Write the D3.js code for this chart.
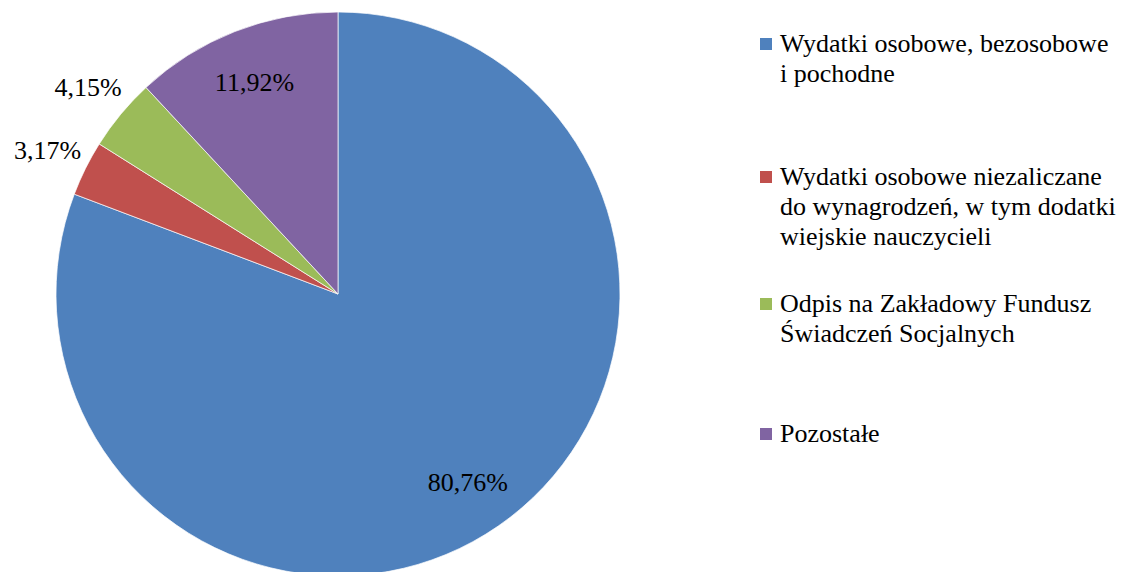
<!DOCTYPE html>
<html>
<head>
<meta charset="utf-8">
<script src="https://cdn.jsdelivr.net/npm/d3@7"></script>
<style>
  body { margin: 0; background: #fff; }
</style>
</head>
<body>
<svg id="chart" width="1126" height="572"></svg>
<script>
// data
var categories = [
  ["Wydatki osobowe, bezosobowe", "i pochodne"],
  ["Wydatki osobowe niezaliczane", "do wynagrodzeń, w tym dodatki", "wiejskie nauczycieli"],
  ["Odpis na Zakładowy Fundusz", "Świadczeń Socjalnych"],
  ["Pozostałe"]
];
var values = [80.76, 3.17, 4.15, 11.92];
var labels = ["80,76%", "3,17%", "4,15%", "11,92%"];
var colors = ["#4F81BD", "#C0504D", "#9BBB59", "#8064A2"];
var labelInside = [true, false, false, true];

var svg = d3.select("#chart");
var fontFamily = "\"Liberation Serif\"";
var cx = 338, cy = 294, r = 282;
var fontSize = "26px";

var pie = d3.pie().sort(null).value(function (d) { return d; });
var arcs = pie(values);
var arc = d3.arc().innerRadius(0).outerRadius(r);
var inArc = d3.arc().innerRadius(r * 0.81).outerRadius(r * 0.81);
var outArc = d3.arc().innerRadius(r * 1.15).outerRadius(r * 1.15);

var g = svg.append("g").attr("transform", "translate(" + cx + "," + cy + ")");

g.selectAll("path.slice")
  .data(arcs)
  .enter().append("path")
  .attr("class", "slice")
  .attr("d", arc)
  .attr("fill", function (d, i) { return colors[i]; })
  .attr("stroke", "#fff")
  .attr("stroke-width", 0.7);

g.selectAll("text.lbl")
  .data(arcs)
  .enter().append("text")
  .attr("class", "lbl")
  .attr("transform", function (d, i) {
    var c = labelInside[i] ? inArc.centroid(d) : outArc.centroid(d);
    return "translate(" + c[0] + "," + c[1] + ")";
  })
  .attr("text-anchor", "middle")
  .attr("dy", "0.35em")
  .style("font-family", fontFamily)
  .style("font-size", fontSize)
  .attr("fill", "#000")
  .text(function (d, i) { return labels[i]; });

// legend
var legendX = 760, lineH = 30;
var legendTop = [38, 171, 298, 428]; // top of the square for each item
var legend = svg.append("g");
categories.forEach(function (lines, i) {
  var item = legend.append("g").attr("transform", "translate(" + legendX + "," + legendTop[i] + ")");
  item.append("rect")
    .attr("width", 12).attr("height", 12)
    .attr("fill", colors[i]);
  var t = item.append("text")
    .attr("x", 20)
    .attr("y", 14)
    .style("font-family", fontFamily)
    .style("font-size", fontSize)
    .attr("fill", "#000");
  lines.forEach(function (ln, j) {
    t.append("tspan").attr("x", 20).attr("dy", j === 0 ? 0 : lineH).text(ln);
  });
});
</script>
</body>
</html>
